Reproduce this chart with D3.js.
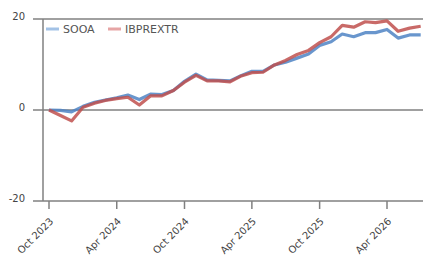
<!DOCTYPE html>
<html>
<head>
<meta charset="utf-8">
<script src="https://cdn.jsdelivr.net/npm/d3@7"></script>
<style>
  html, body { margin: 0; padding: 0; background: #fff; }
  svg { display: block; }
  text { font-family: "DejaVu Sans", sans-serif; fill: #444; }
</style>
</head>
<body>
<svg id="chart" width="423" height="260"></svg>
<script>
// Monthly series, Oct 2023 .. Jul 2026
const months = d3.timeMonths(new Date(2023, 9, 1), new Date(2026, 7, 1));
const sooa = [0, -0.1, -0.4, 0.8, 1.7, 2.2, 2.7, 3.3, 2.3, 3.5, 3.4, 4.3,
  6.3, 7.9, 6.6, 6.5, 6.4, 7.5, 8.5, 8.5, 9.9, 10.5, 11.4, 12.3,
  14.2, 15.0, 16.7, 16.1, 17.0, 17.0, 17.7, 15.8, 16.5, 16.5];
const ibprextr = [0, -1.2, -2.4, 0.6, 1.5, 2.1, 2.5, 2.8, 1.1, 3.1, 3.1, 4.3,
  6.1, 7.6, 6.4, 6.4, 6.2, 7.4, 8.2, 8.3, 9.9, 10.9, 12.2, 13.1,
  14.8, 16.1, 18.6, 18.2, 19.4, 19.2, 19.6, 17.3, 18.0, 18.4];
const yTicks = [20, 0, -20];
const xTicks = [new Date(2023, 9, 1), new Date(2024, 3, 1), new Date(2024, 9, 1),
  new Date(2025, 3, 1), new Date(2025, 9, 1), new Date(2026, 3, 1)];

const series = [
  {name: 'SOOA', values: sooa, color: '#4f84c4', legend: '#a3c2e6'},
  {name: 'IBPREXTR', values: ibprextr, color: '#c0504d', legend: '#e6a5a5'}
];

const svg = d3.select('#chart');
const W = 423;

// Scales
const x = d3.scaleTime()
  .domain([new Date(2023, 9, 1), new Date(2026, 3, 1)])
  .range([49, 387]);
const y = d3.scaleLinear().domain([-20, 20]).range([201, 19]);

// Horizontal grid lines
svg.selectAll('line.grid')
  .data(yTicks)
  .join('line')
  .attr('class', 'grid')
  .attr('x1', 33).attr('x2', W)
  .attr('y1', d => y(d)).attr('y2', d => y(d))
  .style('stroke', '#808080')
  .style('stroke-width', 1.5);

// Y axis line
svg.append('line')
  .attr('x1', 43).attr('x2', 43)
  .attr('y1', y(20)).attr('y2', y(-20))
  .style('stroke', '#808080')
  .style('stroke-width', 1.5);

// Y labels
svg.selectAll('text.ylab')
  .data(yTicks)
  .join('text')
  .attr('class', 'ylab')
  .attr('x', 25)
  .attr('y', d => y(d))
  .attr('dy', '0.05em')
  .style('text-anchor', 'end')
  .style('font-size', '10px')
  .text(d => d);

// X ticks
svg.selectAll('line.xtick')
  .data(xTicks)
  .join('line')
  .attr('class', 'xtick')
  .attr('x1', d => x(d)).attr('x2', d => x(d))
  .attr('y1', y(-20)).attr('y2', y(-20) + 8)
  .style('stroke', '#808080')
  .style('stroke-width', 1.5);

const fmt = d3.timeFormat('%b %Y');
svg.selectAll('text.xlab')
  .data(xTicks)
  .join('text')
  .attr('class', 'xlab')
  .attr('transform', d => `translate(${x(d) + 5},${y(-20) + 21}) rotate(-45)`)
  .style('text-anchor', 'end')
  .style('font-size', '10px')
  .text(fmt);

// Lines
const line = d3.line()
  .x((d, i) => x(months[i]))
  .y(d => y(d));

svg.selectAll('path.series')
  .data(series)
  .join('path')
  .attr('class', 'series')
  .attr('d', d => line(d.values))
  .style('fill', 'none')
  .style('stroke', d => d.color)
  .style('stroke-width', 3.2)
  .style('stroke-opacity', 0.85)
  .style('stroke-linejoin', 'round');

// Legend
const leg = svg.append('g').attr('transform', 'translate(46,29)');
const item = leg.selectAll('g')
  .data(series)
  .join('g')
  .attr('transform', (d, i) => `translate(${i * 62},0)`);
item.append('line')
  .attr('x1', 0).attr('x2', 13)
  .attr('y1', 0).attr('y2', 0)
  .style('stroke', d => d.legend)
  .style('stroke-width', 3);
item.append('text')
  .attr('x', 17)
  .attr('dy', '0.36em')
  .style('font-size', '11px')
  .style('fill', '#555')
  .text(d => d.name);
</script>
</body>
</html>
